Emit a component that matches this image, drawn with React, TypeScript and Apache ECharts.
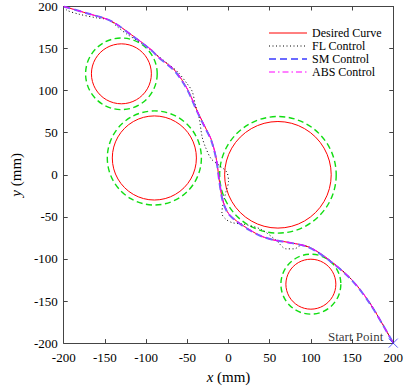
import React, { useEffect, useRef } from "react";
import * as echarts from "echarts";

const FONT = "Times New Roman, Liberation Serif, DejaVu Serif, serif";

const xTickValues = [-200, -150, -100, -50, 0, 50, 100, 150, 200];
const yTickValues = [-200, -150, -100, -50, 0, 50, 100, 150, 200];

const seriesNames = ["Desired Curve", "FL Control", "SM Control", "ABS Control"];

const obstacleCenters = [
  [-130, 120],
  [-90, 20],
  [60, 0],
  [100, -130],
];
const obstacleRadii = [36, 50.5, 64, 30];
const safetyRadii = [43, 56.5, 70, 36];

const desiredCurve = [
  [-200, 200], [-172, 192], [-143, 183], [-118, 166.5], [-93, 148], [-85, 140],
  [-65, 124], [-50, 102], [-38, 76], [-29, 58], [-21, 42], [-15, 20], [-11, -8],
  [-8, -26], [-5, -36], [0, -46], [10, -55], [25, -65], [40, -73], [55, -77.5],
  [71, -80], [98, -86], [122, -101], [149, -124], [172, -153], [200, -200],
];

const flCurve = [
  [-200, 200], [-196, 195.5], [-182, 191], [-160, 186.5], [-145, 184], [-135, 176],
  [-124, 167.6], [-105, 156], [-89, 144], [-75, 133], [-62, 122.6], [-50, 108],
  [-44, 99], [-40, 82], [-36, 70], [-32, 45], [-28, 33], [-21, 19], [-11, 11],
  [-2, 3], [0, -8], [-3, -20], [-7, -36], [-8, -46], [-3, -53], [5, -57],
  [20, -59], [40, -65], [58, -78], [70, -88], [80, -88], [88, -84], [98, -86],
  [122, -101], [149, -124], [172, -153], [200, -200],
];

const smCurve = [
  [-200, 200], [-172, 192], [-143, 183], [-118, 166], [-93, 147.5], [-85, 139.5],
  [-65, 123], [-50, 101], [-38, 75], [-29, 57], [-21, 41], [-15, 19], [-11, -9],
  [-8, -27], [-5, -37], [0, -46.5], [10, -55.5], [25, -65.5], [40, -73], [55, -77.5],
  [71, -80], [98, -86.5], [122, -101.5], [149, -124.5], [172, -153.5], [200, -200],
];

const absCurve = [
  [-200, 200], [-172, 192], [-143, 183], [-118, 166.5], [-93, 148], [-85, 140],
  [-65, 124], [-50, 102], [-38, 76], [-29, 58], [-21, 42], [-15, 20], [-11, -8],
  [-8, -26], [-5, -36], [0, -46], [10, -55], [25, -65], [40, -73], [55, -77.5],
  [71, -80], [98, -86], [122, -101], [149, -124], [172, -153], [200, -200],
];

const startPoint = [[200, -200]];

export default function App() {
  const ref = useRef<HTMLDivElement>(null);

  useEffect(() => {
    if (!ref.current) return;
    const chart = echarts.init(ref.current, undefined, { renderer: "svg" });

    const circleSeries = (radii: number[], color: string, width: number, dash: number[] | null) => ({
      type: "custom",
      xAxisIndex: 0,
      yAxisIndex: 0,
      silent: true,
      z: 1,
      data: obstacleCenters.map((c, i) => [c[0], c[1], radii[i]]),
      encode: { x: 0, y: 1 },
      renderItem: (params: any, api: any) => {
        const c = api.coord([api.value(0), api.value(1)]);
        const s = api.size([api.value(2), api.value(2)]);
        return {
          type: "circle",
          shape: { cx: c[0], cy: c[1], r: (s[0] + s[1]) / 2 },
          style: {
            fill: "none",
            stroke: color,
            lineWidth: width,
            lineDash: dash || undefined,
          },
        };
      },
    });

    const axisLine = { show: true, onZero: false, lineStyle: { color: "#444", width: 1 } };
    const axisTick = { show: true, inside: true, length: 4, lineStyle: { color: "#444" } };
    const labelStyle = { color: "#000", fontFamily: FONT, fontSize: 13 };
    const nameStyle = {
      color: "#000",
      fontFamily: FONT,
      fontSize: 15,
      rich: {
        i: { fontStyle: "italic", fontFamily: FONT, fontSize: 15, color: "#000" },
        n: { fontFamily: FONT, fontSize: 15, color: "#000" },
      },
    };

    const legendWidths = [1, 1, 2, 1];

    const option: any = {
      animation: false,
      backgroundColor: "#fff",
      textStyle: { fontFamily: FONT },
      grid: { left: 52, right: 12, top: 6, bottom: 42, containLabel: false },
      xAxis: [
        {
          type: "value",
          min: xTickValues[0],
          max: xTickValues[xTickValues.length - 1],
          interval: 50,
          position: "bottom",
          axisLine,
          axisTick,
          splitLine: { show: false },
          axisLabel: { ...labelStyle, margin: 8 },
          name: "{i|x} {n|(mm)}",
          nameLocation: "middle",
          nameGap: 25,
          nameTextStyle: nameStyle,
        },
        {
          type: "value",
          min: xTickValues[0],
          max: xTickValues[xTickValues.length - 1],
          interval: 50,
          position: "top",
          axisLine,
          axisTick,
          splitLine: { show: false },
          axisLabel: { show: false },
        },
      ],
      yAxis: [
        {
          type: "value",
          min: yTickValues[0],
          max: yTickValues[yTickValues.length - 1],
          interval: 50,
          position: "left",
          axisLine,
          axisTick,
          splitLine: { show: false },
          axisLabel: { ...labelStyle, margin: 6 },
          name: "{i|y} {n|(mm)}",
          nameLocation: "middle",
          nameGap: 38,
          nameTextStyle: nameStyle,
        },
        {
          type: "value",
          min: yTickValues[0],
          max: yTickValues[yTickValues.length - 1],
          interval: 50,
          position: "right",
          axisLine,
          axisTick,
          splitLine: { show: false },
          axisLabel: { show: false },
        },
      ],
      legend: {
        data: seriesNames.map((n, i) => ({ name: n, lineStyle: { width: legendWidths[i] } })),
        orient: "vertical",
        left: 263,
        top: 22,
        itemWidth: 38,
        itemHeight: 14,
        itemGap: 1,
        itemStyle: { opacity: 0 },
        textStyle: { color: "#000", fontFamily: FONT, fontSize: 12 },
        selectedMode: false,
      },
      series: [
        circleSeries(obstacleRadii, "#ff0000", 1, null),
        circleSeries(safetyRadii, "#11dd11", 1.4, [6, 3.5]),
        {
          name: seriesNames[0],
          type: "line",
          data: desiredCurve,
          smooth: 0.3,
          symbol: "none",
          z: 3,
          lineStyle: { color: "#ff0000", width: 1 },
          itemStyle: { color: "#ff0000" },
        },
        {
          name: seriesNames[1],
          type: "line",
          data: flCurve,
          smooth: 0.3,
          symbol: "none",
          z: 4,
          lineStyle: { color: "#000", width: 1, type: [1, 2.5] },
          itemStyle: { color: "#000" },
        },
        {
          name: seriesNames[2],
          type: "line",
          data: smCurve,
          smooth: 0.3,
          symbol: "none",
          z: 5,
          lineStyle: { color: "#6a6aff", width: 2, type: [7, 4] },
          itemStyle: { color: "#6a6aff" },
        },
        {
          name: seriesNames[3],
          type: "line",
          data: absCurve,
          smooth: 0.3,
          symbol: "none",
          z: 6,
          lineStyle: { color: "#ff00ff", width: 1, type: [6, 3, 1.5, 3] },
          itemStyle: { color: "#ff00ff" },
        },
        {
          type: "scatter",
          data: startPoint,
          symbol: "path://M0 0L10 10M10 0L0 10",
          symbolSize: 9,
          clip: false,
          z: 7,
          itemStyle: { color: "none", borderColor: "#3333ff", borderWidth: 1 },
          label: {
            show: true,
            formatter: "Start Point",
            position: "left",
            distance: 3,
            offset: [0, -7],
            color: "#000",
            fontFamily: FONT,
            fontSize: 13,
          },
        },
      ],
    };

    chart.setOption(option);
    return () => chart.dispose();
  }, []);

  return <div ref={ref} style={{ width: 406, height: 389, position: "absolute", left: 0, top: 0 }} />;
}
